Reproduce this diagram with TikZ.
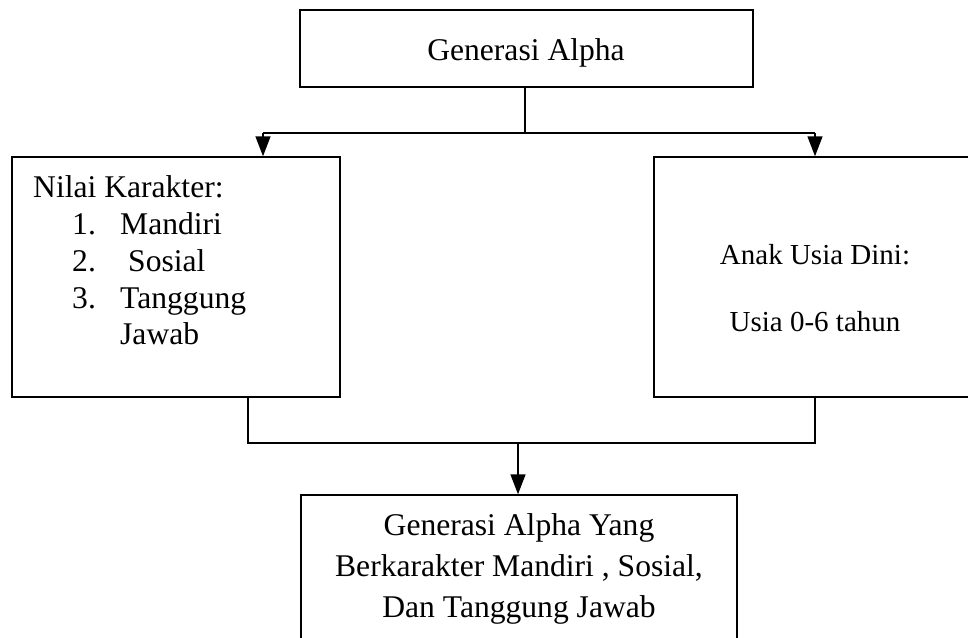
\documentclass[tikz,border=0pt]{standalone}
\usepackage{fontspec}
\setmainfont{Liberation Serif}
\usetikzlibrary{arrows.meta}
\begin{document}
\begin{tikzpicture}[x=1pt,y=-1pt,
  box/.style={draw,line width=1.5pt,inner sep=0pt},
  txt/.style={inner sep=0pt,font=\fontsize{31.6}{37}\selectfont},
  smalltxt/.style={inner sep=0pt,font=\fontsize{29}{34}\selectfont},
  conn/.style={line width=1.5pt},
  arr/.style={line width=1.5pt,-{Triangle[length=20pt,width=15pt]}}]
\clip (0,0) rectangle (968,637);
\fill[white] (0,0) rectangle (968,637);
% boxes
\node[box,minimum width=453pt,minimum height=77pt] (top) at (526.5,48.5) {};
\node[box,minimum width=328pt,minimum height=240pt] (left) at (176,277) {};
\node[box,minimum width=322pt,minimum height=240pt] (right) at (815,277) {};
\node[box,minimum width=436pt,minimum height=165pt] (bot) at (519,577.5) {};
% texts
\node[txt,anchor=base] (t1) at (526,60) {Generasi Alpha};
\node[txt,anchor=base west] (l1) at (33,197) {Nilai Karakter:};
\node[txt,anchor=base west] (l2n) at (72,234) {1.};
\node[txt,anchor=base west] (l2) at (120,234) {Mandiri};
\node[txt,anchor=base west] (l3n) at (72,271) {2.};
\node[txt,anchor=base west] (l3) at (128,271) {Sosial};
\node[txt,anchor=base west] (l4n) at (72,308) {3.};
\node[txt,anchor=base west] (l4) at (120,308) {Tanggung};
\node[txt,anchor=base west] (l5) at (120,344) {Jawab};
\node[smalltxt,anchor=base] (r1) at (815,264) {Anak Usia Dini:};
\node[smalltxt,anchor=base] (r2) at (815,331) {Usia 0-6 tahun};
\node[txt,anchor=base] (b1) at (519,535) {Generasi Alpha Yang};
\node[txt,anchor=base] (b2) at (519,576) {Berkarakter Mandiri , Sosial,};
\node[txt,anchor=base] (b3) at (519,617) {Dan Tanggung Jawab};
% connectors
\coordinate (split) at (525,133);
\coordinate (splitL) at (263,133);
\coordinate (splitR) at (815,133);
\coordinate (joinL) at (248,443);
\coordinate (joinR) at (815,443);
\coordinate (join) at (518,443);
\draw[conn] (top.south -| split) -- (split);
\draw[conn] (splitL) -- (splitR);
\draw[arr] (splitL) -- (splitL |- left.north);
\draw[arr] (splitR) -- (right.north);
\draw[conn] (left.south -| joinL) -- (joinL) -- (joinR) -- (right.south -| joinR);
\draw[arr] (join) -- (join |- bot.north);
\end{tikzpicture}
\end{document}
